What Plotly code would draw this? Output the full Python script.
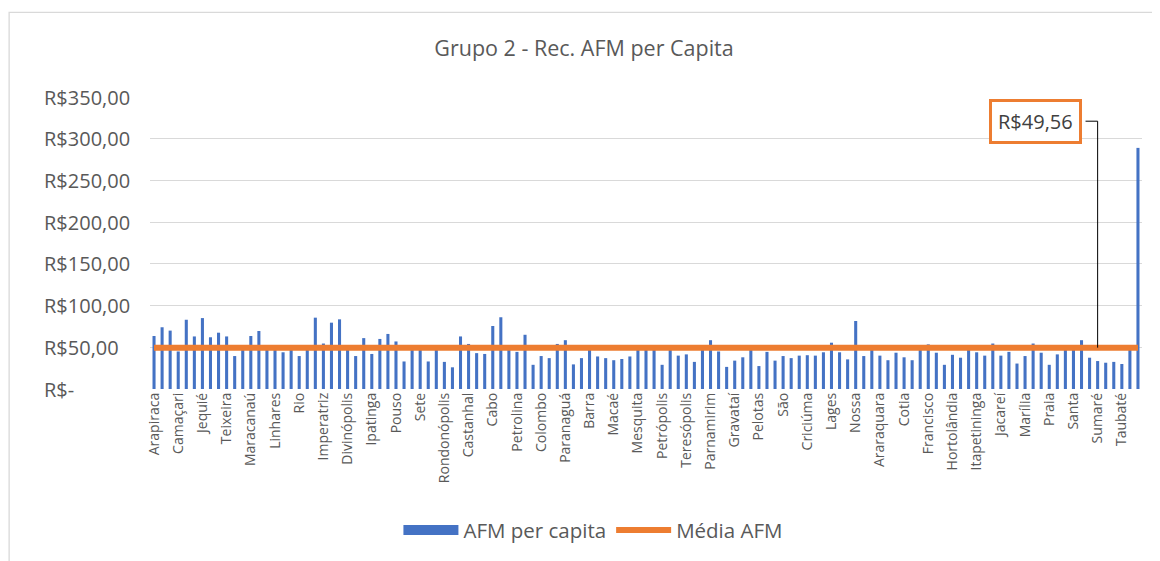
import plotly.graph_objects as go

# ---- data ----
tick_labels = ["Arapiraca", "Camaçari", "Jequié", "Teixeira", "Maracanaú", "Linhares", "Rio",
               "Imperatriz", "Divinópolis", "Ipatinga", "Pouso", "Sete", "Rondonópolis",
               "Castanhal", "Cabo", "Petrolina", "Colombo", "Paranaguá", "Barra", "Macaé",
               "Mesquita", "Petrópolis", "Teresópolis", "Parnamirim", "Gravataí", "Pelotas",
               "São", "Criciúma", "Lages", "Nossa", "Araraquara", "Cotia", "Francisco",
               "Hortolândia", "Itapetininga", "Jacareí", "Marília", "Praia", "Santa",
               "Sumaré", "Taubaté"]

afm_per_capita = [
    63.5, 74, 70, 45, 83, 63, 85, 62, 67.5, 63,
    39.5, 52, 63.5, 69.5, 48, 47, 44, 48, 39.5, 49,
    85.5, 54.5, 79.5, 83.5, 48, 39.5, 61, 42, 60, 66,
    57, 33, 47, 48, 33, 47, 32.5, 26, 63, 54,
    43, 42, 75.5, 86, 48, 44.5, 65, 29, 39.5, 37,
    54, 58.5, 29.5, 37, 48, 39, 37, 34.5, 36, 39,
    47, 48, 47, 29, 47, 40, 41.5, 32.5, 48, 58.5,
    45, 26.5, 34, 38, 48, 27.5, 44.5, 34, 39.5, 37,
    40, 40.5, 40, 44, 55.5, 44, 35.5, 81.5, 39.5, 48,
    40, 34.5, 43.5, 38, 34.5, 48, 53.5, 43.5, 29, 41,
    37.5, 47, 44, 40, 54.5, 40, 44.5, 30.5, 39.5, 54.5,
    43.5, 29, 41.5, 48, 48, 58.5, 37.5, 33.5, 31.5, 32.5,
    30, 48, 289,
]
media_afm = 49.56
label_point = 117          # category index where the mean data label is attached
y_ticks = [0, 50, 100, 150, 200, 250, 300, 350]

# ---- figure ----
n = len(afm_per_capita)
idx = list(range(n))
media_series = [media_afm] * n

def brl(v):
    if v == 0:
        return "R$-"
    return "R$" + f"{v:,.2f}".replace(",", "X").replace(".", ",").replace("X", ".")

GRAY = "#595959"
FONT = "Open Sans"
BLUE = "#4472C4"
ORANGE = "#ED7D31"

fig = go.Figure()
fig.add_trace(go.Bar(x=idx, y=afm_per_capita, name="AFM per capita", showlegend=False,
                     marker=dict(color=BLUE, line=dict(width=0))))
# legend proxy giving the wide rectangular swatch Excel uses for bar series
fig.add_trace(go.Scatter(x=[None], y=[None], name="AFM per capita", mode="lines",
                         line=dict(color=BLUE, width=13), hoverinfo="skip"))
fig.add_trace(go.Scatter(x=idx, y=media_series, name="Média AFM", mode="lines",
                         line=dict(color=ORANGE, width=6)))

# page body has an 8px margin, so the figure is sized/placed to compensate
fig.update_layout(
    width=1152, height=553,
    margin=dict(l=142, r=18, t=89, b=171),
    paper_bgcolor="white", plot_bgcolor="white",
    bargap=0.62,
    font=dict(family=FONT, color=GRAY),
    title=dict(text="Grupo 2 - Rec. AFM per Capita", x=0.5, xref="container",
               xanchor="center", y=0.926, yanchor="middle",
               font=dict(family=FONT, size=21.5, color=GRAY)),
    showlegend=True,
    legend=dict(orientation="h", x=0.447, xanchor="center", y=-0.478, yanchor="middle",
                font=dict(family=FONT, size=20.5, color=GRAY), itemwidth=55,
                traceorder="normal"),
    xaxis=dict(range=[-0.5, n - 0.5], tickmode="array",
               tickvals=idx[::3], ticktext=tick_labels, tickangle=-90,
               tickfont=dict(family=FONT, size=14, color=GRAY),
               showgrid=False, zeroline=False, showline=False, ticks=""),
    yaxis=dict(range=[0, 350], tickmode="array", tickvals=y_ticks,
               showticklabels=False, showgrid=True, gridcolor="#D9D9D9", gridwidth=1.3,
               zeroline=False, showline=False, ticks=""),
)

# y tick labels, left-aligned like Excel accounting format
for v in y_ticks:
    fig.add_annotation(x=-0.109, xref="paper", xanchor="left", y=v, yref="y",
                       yanchor="middle", text=brl(v), showarrow=False,
                       font=dict(family=FONT, size=20, color=GRAY))

# chart border
fig.add_shape(type="rect", xref="paper", yref="paper", x0=-0.142, x1=1.1, y0=-0.6, y1=1.29,
              line=dict(color="#D9D9D9", width=1.3), fillcolor="rgba(0,0,0,0)", layer="below")

# mean data label with elbow leader line
lab_x, lab_y = 109.3, 321
fig.add_annotation(x=lab_x, y=lab_y, xref="x", yref="y", text=brl(media_afm),
                   showarrow=False, bgcolor="white", bordercolor=ORANGE, borderwidth=3,
                   borderpad=6, font=dict(family=FONT, size=20, color="#404040"))
fig.add_shape(type="path", xref="x", yref="y",
              path=f"M 115.5 {lab_y} L {label_point} {lab_y} L {label_point} {media_series[label_point]}",
              line=dict(color="black", width=1))

fig.write_html("out.html")
